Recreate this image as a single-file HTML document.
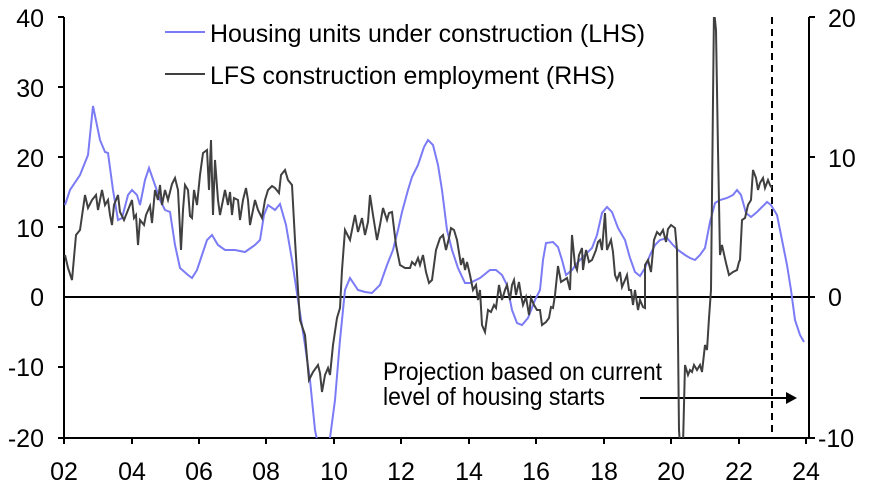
<!DOCTYPE html>
<html><head><meta charset="utf-8"><style>
html,body{margin:0;padding:0;background:#fff}
svg{display:block;font-family:"Liberation Sans",Arial,sans-serif}
</style></head><body>
<svg width="876" height="481" viewBox="0 0 876 481">
<g font-size="25" fill="#000">
<g text-anchor="end">
<text x="44" y="27">40</text><text x="44" y="97">30</text><text x="44" y="167">20</text><text x="44" y="237">10</text><text x="44" y="306">0</text><text x="44" y="376">-10</text><text x="44" y="447">-20</text>
</g>
<text x="828" y="27">20</text><text x="828" y="167">10</text><text x="828" y="306">0</text><text x="818" y="447">-10</text>
<g text-anchor="middle">
<text x="64" y="480">02</text><text x="132" y="480">04</text><text x="199" y="480">06</text><text x="266" y="480">08</text><text x="334" y="480">10</text><text x="401" y="480">12</text><text x="469" y="480">14</text><text x="536" y="480">16</text><text x="604" y="480">18</text><text x="671" y="480">20</text><text x="739" y="480">22</text><text x="806" y="480">24</text>
</g>
<text x="210" y="42" textLength="435" lengthAdjust="spacingAndGlyphs">Housing units under construction (LHS)</text>
<text x="210" y="84" textLength="405" lengthAdjust="spacingAndGlyphs">LFS construction employment (RHS)</text>
<text x="383" y="380" textLength="279" lengthAdjust="spacingAndGlyphs">Projection based on current</text>
<text x="383" y="405" textLength="222" lengthAdjust="spacingAndGlyphs">level of housing starts</text>
</g>
<line x1="165" y1="32" x2="205" y2="32" stroke="#7b7bf5" stroke-width="2"/>
<line x1="165" y1="74" x2="205" y2="74" stroke="#404040" stroke-width="2"/>
<g stroke="#000" stroke-width="2" fill="none">
<line x1="64" y1="17" x2="64" y2="438"/>
<line x1="809" y1="17" x2="809" y2="438"/>
<line x1="64" y1="297" x2="809" y2="297"/>
<line x1="64" y1="438" x2="809" y2="438"/>
<path d="M58 17H64M58 87H64M58 157H64M58 227H64M58 367H64M58 438H64M809 17H815M809 157H815M809 297H815M809 438H815M64 438V444M132 438V444M199 438V444M266 438V444M334 438V444M401 438V444M469 438V444M536 438V444M604 438V444M671 438V444M739 438V444M806 438V444"/>
</g>
<line x1="772" y1="17" x2="772" y2="438" stroke="#000" stroke-width="2" stroke-dasharray="7,5"/>
<line x1="640" y1="398" x2="786" y2="398" stroke="#000" stroke-width="2"/>
<polygon points="786,392 797,398 786,404" fill="#000"/>
<svg x="64" y="17" width="745" height="421" viewBox="64 17 745 421" overflow="hidden">
<polyline fill="none" stroke="#7b7bf5" stroke-width="2" points="65,205 70,190 80,175 88,155 93,106 100,140 105,152 108,153 113,190 118,220 122,218 128,195 132,190 137,195 140,205 145,180 149,168 155,185 160,200 165,210 170,212 175,245 180,268 188,275 192,278 197,270 202,255 207,240 212,235 218,245 225,250 235,250 245,252 255,245 260,240 264,215 268,205 275,210 280,204 286,225 292,260 298,300 305,345 310,380 315,430 318,445 328,445 330,438 335,400 340,340 345,290 350,278 358,290 365,292 372,293 380,285 387,265 393,250 398,230 402,212 408,190 412,177 418,165 424,147 428,140 433,145 438,165 442,190 447,230 452,250 458,268 465,283 470,283 480,278 490,270 496,270 502,275 507,285 512,310 517,323 522,325 528,318 535,300 540,290 543,260 546,243 553,242 558,247 562,260 566,275 572,270 578,262 585,255 592,248 597,235 602,213 607,207 612,212 618,228 625,240 630,258 635,272 640,276 645,268 650,255 655,245 660,240 667,238 673,245 678,250 685,255 690,258 695,260 700,255 705,248 710,222 715,203 720,200 727,198 733,195 737,190 741,195 746,213 751,217 757,212 762,207 767,202 771,205 777,215 782,240 787,265 791,290 795,320 800,335 804,342"/>
<polyline fill="none" stroke="#404040" stroke-width="2" points="65,255 68,268 72,280 76,235 80,230 85,195 88,208 92,200 96,195 98,210 102,190 105,205 108,200 110,215 112,225 114,205 118,195 120,212 124,220 128,210 132,200 134,218 136,215 138,245 140,220 144,225 146,215 150,206 152,223 155,190 158,200 160,185 162,205 165,190 168,200 172,184 175,178 178,190 181,250 183,210 185,185 188,190 190,216 192,218 194,190 197,205 200,175 203,153 207,150 209,190 211,140 213,215 215,160 218,200 220,215 222,205 225,190 228,205 230,192 232,215 234,198 238,200 240,220 243,200 246,188 248,200 250,225 253,210 255,200 258,210 262,218 265,200 268,190 272,186 275,188 279,193 281,175 285,170 288,180 292,185 295,240 298,290 300,320 305,335 309,380 313,372 318,365 320,373 322,392 325,375 328,368 330,375 333,345 337,318 340,308 342,270 345,230 350,240 355,215 358,232 362,218 365,235 368,222 370,195 373,215 377,240 380,225 383,208 387,220 389,213 392,212 396,245 400,265 405,268 410,268 412,262 415,265 418,258 420,265 423,255 426,272 429,283 432,280 436,250 440,238 443,235 446,250 449,238 451,228 454,230 457,240 461,265 463,258 465,270 467,262 470,275 473,290 476,285 478,300 480,290 482,325 485,332 488,310 491,312 494,305 496,308 499,285 502,300 505,290 507,285 510,300 512,285 514,280 516,295 519,282 521,295 523,305 526,297 529,315 531,298 534,305 537,310 540,310 542,325 546,322 549,318 551,307 553,308 555,295 558,266 561,282 564,280 567,278 570,290 572,235 575,265 577,270 579,255 582,248 583,270 586,250 589,262 592,260 596,250 598,242 600,240 602,250 605,213 607,250 609,245 611,240 613,252 615,275 617,280 620,272 622,287 625,280 627,275 629,290 631,290 633,305 635,290 638,310 640,300 643,307 645,308 645,265 648,260 651,272 654,240 657,232 660,235 663,230 666,242 668,229 671,225 675,228 677,250 679,430 680,445 683,445 685,365 688,375 690,370 692,372 694,365 697,370 700,365 702,372 705,345 707,350 709,318 711,290 713,100 714,10 716,30 718,150 720,255 722,245 726,263 729,275 733,272 737,270 739,262 740,260 742,220 745,218 748,205 751,200 753,170 756,178 758,190 760,183 763,178 765,188 768,180 770,185 772,188"/>
</svg>
</svg>
</body></html>
